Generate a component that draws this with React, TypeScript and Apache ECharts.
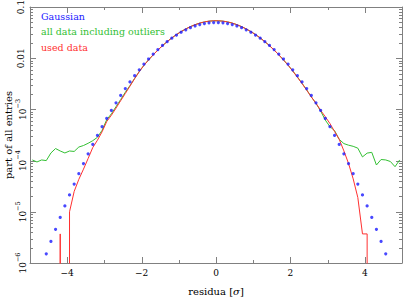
import React, { useEffect, useRef } from "react";
import * as echarts from "echarts";

// bin centres (bin width 0.125 sigma)
const binCenters = [
  -4.9375, -4.8125, -4.6875, -4.5625, -4.4375, -4.3125, -4.1875, -4.0625,
  -3.9375, -3.8125, -3.6875, -3.5625, -3.4375, -3.3125, -3.1875, -3.0625,
  -2.9375, -2.8125, -2.6875, -2.5625, -2.4375, -2.3125, -2.1875, -2.0625,
  -1.9375, -1.8125, -1.6875, -1.5625, -1.4375, -1.3125, -1.1875, -1.0625,
  -0.9375, -0.8125, -0.6875, -0.5625, -0.4375, -0.3125, -0.1875, -0.0625,
  0.0625, 0.1875, 0.3125, 0.4375, 0.5625, 0.6875, 0.8125, 0.9375,
  1.0625, 1.1875, 1.3125, 1.4375, 1.5625, 1.6875, 1.8125, 1.9375,
  2.0625, 2.1875, 2.3125, 2.4375, 2.5625, 2.6875, 2.8125, 2.9375,
  3.0625, 3.1875, 3.3125, 3.4375, 3.5625, 3.6875, 3.8125, 3.9375,
  4.0625, 4.1875, 4.3125, 4.4375, 4.5625, 4.6875, 4.8125, 4.9375,
];

const gaussian = [
  null, null, null, 1.51e-6, 2.64e-6, 4.56e-6, 7.77e-6, 1.3e-5,
  2.14e-5, 3.48e-5, 5.56e-5, 8.75e-5, 1.355e-4, 2.07e-4, 3.1e-4, 4.59e-4,
  6.67e-4, 9.55e-4, 1.347e-3, 1.871e-3, 2.557e-3, 3.44e-3, 4.558e-3, 5.944e-3,
  7.632e-3, 9.648e-3, 0.01201, 0.01471, 0.01775, 0.02107, 0.02464, 0.02836,
  0.03213, 0.03585, 0.03937, 0.04257, 0.04532, 0.04749, 0.049, 0.04977,
  0.04977, 0.049, 0.04749, 0.04532, 0.04257, 0.03937, 0.03585, 0.03213,
  0.02836, 0.02464, 0.02107, 0.01775, 0.01471, 0.01201, 9.648e-3, 7.632e-3,
  5.944e-3, 4.558e-3, 3.44e-3, 2.557e-3, 1.871e-3, 1.347e-3, 9.55e-4, 6.67e-4,
  4.59e-4, 3.1e-4, 2.07e-4, 1.355e-4, 8.75e-5, 5.56e-5, 3.48e-5, 2.14e-5,
  1.3e-5, 7.77e-6, 4.56e-6, 2.64e-6, 1.51e-6, null, null, null,
];

const allData = [
  1.03e-4, 9.4e-5, 1.03e-4, 1.0e-4, 1.41e-4, 1.72e-4, 1.54e-4, 1.41e-4,
  1.54e-4, 1.51e-4, 1.84e-4, 1.97e-4, 2.18e-4, 2.45e-4, 2.85e-4, 3.9e-4,
  6.3e-4, 8.2e-4, 1.13e-3, 1.56e-3, 2.16e-3, 2.92e-3, 4.02e-3, 5.48e-3,
  7.26e-3, 9.28e-3, 0.01167, 0.01444, 0.01759, 0.02109, 0.0249, 0.02894,
  0.0331, 0.03729, 0.04135, 0.04513, 0.0485, 0.05106, 0.05293, 0.05376,
  0.05376, 0.05293, 0.05106, 0.0485, 0.04513, 0.04135, 0.03729, 0.0331,
  0.02894, 0.0249, 0.02109, 0.01759, 0.01444, 0.01167, 9.28e-3, 7.34e-3,
  5.66e-3, 4.32e-3, 3.24e-3, 2.41e-3, 1.76e-3, 1.31e-3, 9.3e-4, 6.2e-4,
  4.6e-4, 3.85e-4, 2.6e-4, 2.15e-4, 2.0e-4, 1.9e-4, 1.75e-4, 1.18e-4,
  1.4e-4, 1.45e-4, 8.2e-5, 1.05e-4, 1.03e-4, 9.6e-5, 7.6e-5, 1.03e-4,
];

const usedData = [
  0, 0, 0, 0, 0, 0, 3.7e-6, 0,
  1.0e-5, 2.5e-5, 4.3e-5, 6.8e-5, 1.1e-4, 1.8e-4, 2.5e-4, 3.65e-4,
  5.8e-4, 7.7e-4, 1.06e-3, 1.48e-3, 2.05e-3, 2.85e-3, 4.0e-3, 5.47e-3,
  7.25e-3, 9.26e-3, 0.01165, 0.01442, 0.01757, 0.02107, 0.02489, 0.02893,
  0.03309, 0.03728, 0.04134, 0.04512, 0.04849, 0.05105, 0.05292, 0.05375,
  0.05375, 0.05292, 0.05105, 0.04849, 0.04512, 0.04134, 0.03728, 0.03309,
  0.02893, 0.02489, 0.02107, 0.01757, 0.01442, 0.01165, 9.26e-3, 7.33e-3,
  5.6e-3, 4.25e-3, 3.2e-3, 2.38e-3, 1.75e-3, 1.32e-3, 9.6e-4, 7.2e-4,
  5.3e-4, 3.7e-4, 2.6e-4, 1.55e-4, 8.8e-5, 4.4e-5, 1.9e-5, 3.7e-6,
  3.7e-6, 0, 0, 0, 0, 0, 0, 0,
];

const xTickValues = [-5, -4, -3, -2, -1, 0, 1, 2, 3, 4, 5];
const xLabelValues = [-4, -2, 0, 2, 4];
const yDecades = [1e-6, 1e-5, 1e-4, 1e-3, 0.01, 0.1];
const yLabelTexts = ["{b|10}{s|\u22126}", "{b|10}{s|\u22125}", "{b|10}{s|\u22124}", "{b|10}{s|\u22123}", "0.01", "0.1"];
const minorMultipliers = [2, 3, 4, 5, 6, 7, 8, 9];

const BLUE = "#1a1aff";
const GREEN = "#33c033";
const RED = "#ff3030";
const AXIS = "#808080";
const FONT = "DejaVu Serif";
const X_MIN = -5;
const X_MAX = 5;
const Y_MIN = 1e-6;
const Y_MAX = 0.1;
const LOG_FLOOR = 1e-300; // empty bins (log of zero)

export default function App() {
  const ref = useRef<HTMLDivElement>(null);

  useEffect(() => {
    document.body.style.margin = "0";
    if (!ref.current) return;
    const chart = echarts.init(ref.current, undefined, { renderer: "svg" });

    const yTicks: number[][] = [];
    yDecades.forEach((d, i) => {
      yTicks.push([0, d, 6]);
      if (i < yDecades.length - 1) {
        minorMultipliers.forEach((m) => yTicks.push([0, m * d, 3]));
      }
    });
    const xTicks = xTickValues.map((v) => [v, 0.01, xLabelValues.indexOf(v) >= 0 ? 6 : 3]);

    const tickStyle = { stroke: AXIS, lineWidth: 1 };

    const option: any = {
      animation: false,
      grid: {
        left: 30,
        right: 2,
        top: 7,
        bottom: 36,
        containLabel: false,
        outerBoundsMode: "none",
      },
      legend: {
        orient: "vertical",
        left: 36,
        top: 11,
        padding: 0,
        icon: "none",
        itemWidth: 0,
        itemHeight: 10,
        itemGap: 5.5,
        textStyle: { fontFamily: FONT, fontSize: 9.5 },
        data: [
          { name: "Gaussian", textStyle: { color: BLUE } },
          { name: "all data including outliers", textStyle: { color: GREEN } },
          { name: "used data", textStyle: { color: RED } },
        ],
      },
      xAxis: [
        {
          type: "value",
          min: X_MIN,
          max: X_MAX,
          interval: 1,
          position: "bottom",
          axisLine: { onZero: false, lineStyle: { color: AXIS, width: 1 } },
          axisTick: { show: false },
          splitLine: { show: false },
          axisLabel: {
            margin: 5,
            color: "#000",
            fontFamily: FONT,
            fontSize: 9,
            showMinLabel: true,
            showMaxLabel: true,
            formatter: (v: number) =>
              xLabelValues.indexOf(v) >= 0 ? (v < 0 ? "\u2212" + Math.abs(v) : String(v)) : "",
          },
          name: "residua [{i|σ}]",
          nameLocation: "middle",
          nameGap: 23,
          nameTextStyle: {
            color: "#000",
            fontFamily: FONT,
            fontSize: 10,
            rich: { i: { fontFamily: FONT, fontStyle: "italic", fontSize: 10, color: "#000" } },
          },
        },
        {
          type: "value",
          min: X_MIN,
          max: X_MAX,
          interval: 1,
          position: "top",
          axisLine: { onZero: false, lineStyle: { color: AXIS, width: 1 } },
          axisTick: { show: false },
          splitLine: { show: false },
          axisLabel: { show: false },
        },
      ],
      yAxis: [
        {
          type: "log",
          logBase: 10,
          min: Y_MIN,
          max: Y_MAX,
          position: "left",
          axisLine: { show: true, onZero: false, lineStyle: { color: AXIS, width: 1 } },
          axisTick: { show: false },
          splitLine: { show: false },
          axisLabel: { show: false },
          name: "part of all entries",
          nameLocation: "middle",
          nameRotate: 90,
          nameGap: 17,
          nameMoveOverlap: false,
          nameTextStyle: { color: "#000", fontFamily: FONT, fontSize: 10 },
        },
        {
          type: "log",
          logBase: 10,
          min: Y_MIN,
          max: Y_MAX,
          position: "right",
          axisLine: { show: true, onZero: false, lineStyle: { color: AXIS, width: 1 } },
          axisTick: { show: false },
          splitLine: { show: false },
          axisLabel: { show: false },
        },
      ],
      series: [
        {
          name: "xticks",
          type: "custom",
          silent: true,
          clip: false,
          data: xTicks,
          encode: { x: 0, y: 1 },
          renderItem: (params: any, api: any) => {
            const cs = params.coordSys;
            const p = api.coord([api.value(0), api.value(1)]);
            const len = api.value(2);
            const x = Math.round(p[0]) + 0.5;
            return {
              type: "group",
              children: [
                { type: "line", shape: { x1: x, y1: cs.y + cs.height, x2: x, y2: cs.y + cs.height - len }, style: tickStyle },
                { type: "line", shape: { x1: x, y1: cs.y, x2: x, y2: cs.y + len }, style: tickStyle },
              ],
            };
          },
        },
        {
          name: "yticks",
          type: "custom",
          silent: true,
          clip: false,
          data: yTicks,
          encode: { x: 0, y: 1 },
          renderItem: (params: any, api: any) => {
            const cs = params.coordSys;
            const p = api.coord([api.value(0), api.value(1)]);
            const len = api.value(2);
            const y = Math.round(p[1]) + 0.5;
            return {
              type: "group",
              children: [
                { type: "line", shape: { x1: cs.x, y1: y, x2: cs.x + len, y2: y }, style: tickStyle },
                { type: "line", shape: { x1: cs.x + cs.width, y1: y, x2: cs.x + cs.width - len, y2: y }, style: tickStyle },
              ],
            };
          },
        },
        {
          name: "ylabels",
          type: "custom",
          silent: true,
          clip: false,
          data: yDecades.map((d, i) => [0, d, i]),
          encode: { x: 0, y: 1 },
          renderItem: (params: any, api: any) => {
            const cs = params.coordSys;
            const p = api.coord([api.value(0), api.value(1)]);
            const idx = api.value(2);
            return {
              type: "text",
              x: cs.x - 9,
              y: p[1],
              rotation: Math.PI / 2,
              style: {
                text: yLabelTexts[idx],
                x: 0,
                y: 0,
                align: "center",
                verticalAlign: "middle",
                fontFamily: FONT,
                fontSize: 9,
                fill: "#000",
                rich: {
                  b: { fontFamily: FONT, fontSize: 9, fill: "#000", lineHeight: 13, verticalAlign: "bottom" },
                  s: { fontFamily: FONT, fontSize: 6.5, fill: "#000", lineHeight: 13, verticalAlign: "top" },
                },
              },
            };
          },
        },
        {
          name: "all data including outliers",
          type: "line",
          clip: true,
          showSymbol: false,
          symbol: "none",
          lineStyle: { color: GREEN, width: 1 },
          itemStyle: { color: GREEN },
          data: binCenters.map((x, i) => [x, allData[i] > 0 ? allData[i] : LOG_FLOOR]),
          z: 3,
        },
        {
          name: "used data",
          type: "line",
          clip: true,
          showSymbol: false,
          symbol: "none",
          lineStyle: { color: RED, width: 1 },
          itemStyle: { color: RED },
          data: binCenters.map((x, i) => [x, usedData[i] > 0 ? usedData[i] : LOG_FLOOR]),
          z: 4,
        },
        {
          name: "Gaussian",
          type: "scatter",
          clip: true,
          symbol: "circle",
          symbolSize: 3.2,
          itemStyle: { color: BLUE },
          data: binCenters
            .map((x, i) => [x, gaussian[i]])
            .filter((d) => d[1] !== null),
          z: 5,
        },
      ],
    };

    chart.setOption(option);
    return () => chart.dispose();
  }, []);

  return <div ref={ref} style={{ width: 404, height: 299 }} />;
}
